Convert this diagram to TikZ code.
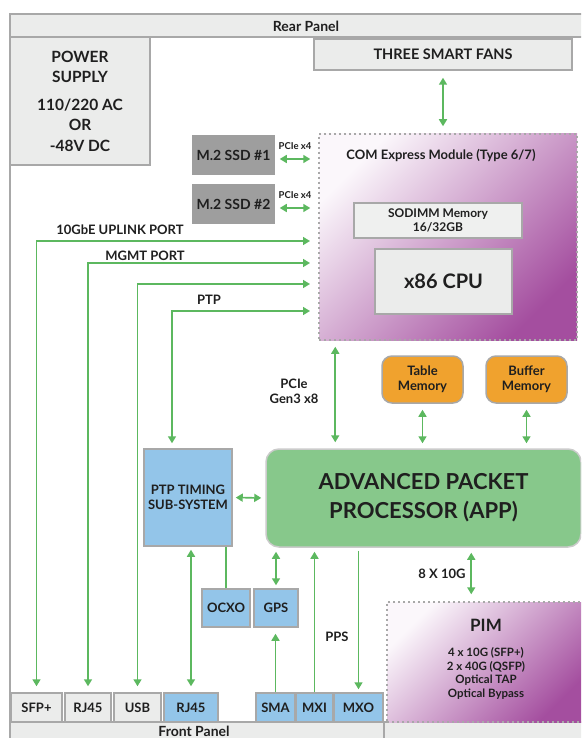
\documentclass[tikz,border=0pt]{standalone}
\usepackage{fontspec}
\setmainfont{Lato}
\usetikzlibrary{arrows.meta}
\definecolor{panelgray}{HTML}{A8A8A8}
\definecolor{panelfill}{HTML}{EBECEB}
\definecolor{ssdgray}{HTML}{9E9E9E}
\definecolor{portblue}{HTML}{93C5E9}
\definecolor{appgreen}{HTML}{87C88B}
\definecolor{memorange}{HTML}{F0A22E}
\definecolor{linkgreen}{HTML}{5CB85F}
\definecolor{textdark}{HTML}{1F1F1F}
\definecolor{comlight}{HTML}{FBF7FB}
\definecolor{comdark}{HTML}{A44E9F}

\begin{document}
\begin{tikzpicture}[x=1pt, y=-1pt,
    every node/.style={text=textdark, font=\bfseries\fontsize{13}{15}\selectfont},
    panel/.style={draw=panelgray, line width=1.5pt, fill=panelfill, inner sep=0pt},
    portbox/.style={panel, minimum height=29},
    blueport/.style={portbox, fill=portblue},
    modbox/.style={draw=panelgray, line width=1.5pt, dash pattern=on 2pt off 3pt,
      top color=comlight, bottom color=comdark, shading angle=45, inner sep=0pt},
    link/.style={draw=linkgreen, line width=1.6pt},
    both/.style={link, {Triangle[length=7pt,width=8pt]}-{Triangle[length=7pt,width=8pt]}},
    tip/.style={link, -{Triangle[length=7pt,width=8pt]}}]
  \useasboundingbox (0,0) rectangle (581,738);
  \clip (0,0) rectangle (581,738);

  % Chassis frame
  \fill[white] (0,0) rectangle (581,738);
  \draw[panelgray, line width=1.5pt] (10,37) -- (10,722);
  \draw[panel] (10,14) rectangle (590,37);
  \node[font=\bfseries\fontsize{14}{16}\selectfont] (rear) at (306,26) {Rear Panel};
  \draw[panel] (10,722) rectangle (384,760);
  \draw[panel] (384,722) rectangle (590,760);
  \node[font=\bfseries\fontsize{14}{16}\selectfont] (front) at (194,731) {Front Panel};

  % Power and fans
  \node[panel, minimum width=140, minimum height=128, align=center,
    font=\bfseries\fontsize{15.5}{20.5}\selectfont] (power) at (80,101)
    {POWER\\SUPPLY\\[7pt]110/220 AC\\OR\\-48V DC};
  \node[panel, minimum width=258, minimum height=31,
    font=\bfseries\fontsize{14.5}{16}\selectfont] (fans) at (443,54.5) {THREE SMART FANS};

  % COM Express module
  \node[modbox, minimum width=258, minimum height=206] (com) at (448,237) {};
  \node (comtitle) at (441,155) {COM Express Module (Type 6/7)};
  \node[panel, fill=panelfill!80!white, minimum width=168, minimum height=35, align=center,
    font=\bfseries\fontsize{12}{14}\selectfont] (sodimm) at (438,220.5) {SODIMM Memory\\16/32GB};
  \node[panel, minimum width=137, minimum height=65,
    font=\bfseries\fontsize{20}{22}\selectfont] (cpu) at (443.5,281.5) {x86 CPU};

  % SSDs
  \foreach \n/\y in {1/155,2/204} {
    \node[panel, draw=white, fill=ssdgray, minimum width=85, minimum height=42,
      font=\bfseries\fontsize{14}{16}\selectfont] (ssd\n) at (233.5,\y) {M.2 SSD \#\n};
    \node[font=\bfseries\fontsize{9.5}{11}\selectfont] (pcie\n) at (295,\y-9) {PCIe x4};
    \draw[both, shorten <=3pt, shorten >=8pt] ([yshift=-4pt]ssd\n.east) -- ([yshift=-4pt]ssd\n.east -| com.west);
  }

  % Memories and APP
  \node[panel, fill=memorange, rounded corners=10pt, minimum width=81, minimum height=47, align=center] (table) at (422.5,379.5)
    {Table\\Memory};
  \node[panel, fill=memorange, rounded corners=10pt, minimum width=81, minimum height=47, align=center] (buffer) at (526.5,379.5)
    {Buffer\\Memory};
  \node[panel, draw=panelgray!60, fill=appgreen, rounded corners=13pt, minimum width=315, minimum height=98, align=center,
    font=\bfseries\fontsize{22}{29}\selectfont] (app) at (423.5,498) {ADVANCED PACKET\\PROCESSOR (APP)};

  % Timing
  \node[panel, fill=portblue, minimum width=88, minimum height=97, align=center] (ptp) at (188,497.5)
    {PTP TIMING\\SUB-SYSTEM};
  \node[panel, fill=portblue, minimum width=48, minimum height=38] (ocxo) at (226,608) {OCXO};
  \node[panel, fill=portblue, minimum width=44, minimum height=38] (gps) at (276,608) {GPS};

  % PIM
  \node[modbox, minimum width=199, minimum height=120] (pim) at (486.5,662) {};
  \node[font=\bfseries\fontsize{17}{19}\selectfont] (pimtitle) at (486,625) {PIM};
  \node[align=center, font=\bfseries\fontsize{11.5}{13.7}\selectfont] (pimtext) at (486,673.5)
    {4 x 10G (SFP+)\\2 x 40G (QSFP)\\Optical TAP\\Optical Bypass};

  % Front panel ports
  \node[portbox, minimum width=51] (sfp) at (36.5,707.5) {SFP+};
  \node[portbox, minimum width=46] (rja) at (88,707.5) {RJ45};
  \node[portbox, minimum width=47] (usb) at (137.5,707.5) {USB};
  \node[blueport, minimum width=54] (rjb) at (191,707.5) {RJ45};
  \node[blueport, minimum width=39] (sma) at (275.5,707.5) {SMA};
  \node[blueport, minimum width=37] (mxi) at (314.5,707.5) {MXI};
  \node[blueport, minimum width=49] (mxo) at (358.5,707.5) {MXO};

  % Port links into the COM module
  \coordinate (uplinkin) at (319,241);
  \coordinate (mgmtin) at (319,263);
  \coordinate (usbin) at (319,284);
  \coordinate (ptpin) at (319,311);
  \draw[both, shorten <=6pt, shorten >=9pt] (sfp.north) |- (uplinkin);
  \draw[both, shorten <=6pt, shorten >=9pt] (rja.north) |- (mgmtin);
  \draw[both, shorten <=6pt, shorten >=9pt] (usb.north) |- (usbin);
  \draw[both, shorten <=5pt, shorten >=9pt] ([xshift=-16pt]ptp.north) |- (ptpin);
  \node (uplinklabel) at (120,230) {10GbE UPLINK PORT};
  \node (mgmtlabel) at (145,256) {MGMT PORT};
  \node (ptplabel) at (209,300) {PTP};

  % Internal links
  \draw[both, shorten <=7pt, shorten >=7pt] (fans.south) -- (fans.south |- com.north);
  \draw[both, shorten <=6pt, shorten >=6pt] ([xshift=70pt]app.north west) -- ([xshift=70pt]app.north west |- com.south);
  \node[align=center] (pcie8) at (294,391) {PCIe\\Gen3 x8};
  \draw[both, shorten <=6pt, shorten >=5pt] (table.south) -- (table.south |- app.north);
  \draw[both, shorten <=6pt, shorten >=5pt] (buffer.south) -- (buffer.south |- app.north);
  \draw[both, shorten <=3pt, shorten >=4pt] (ptp.east) -- (app.west);
  \draw[both, shorten <=5pt, shorten >=7pt] ([xshift=85pt]pim.north west |- app.south) -- ([xshift=85pt]pim.north west);
  \node (tenglabel) at (442,574) {8 X 10G};

  % Timing links
  \draw[both, shorten <=3pt, shorten >=6pt] (ptp.south -| rjb.north) -- (rjb.north);
  \draw[link] (ocxo.north) -- (ocxo.north |- ptp.south);
  \draw[both, shorten <=3pt, shorten >=4pt] (gps.north) -- (gps.north |- app.south);
  \draw[tip, shorten >=6pt] (sma.north) -- (sma.north |- gps.south);
  \draw[tip, shorten >=4pt] (mxi.north) -- (mxi.north |- app.south);
  \draw[tip, shorten <=3pt, shorten >=3pt] (mxo.north |- app.south) -- (mxo.north);
  \node (ppslabel) at (337,637) {PPS};
\end{tikzpicture}
\end{document}
